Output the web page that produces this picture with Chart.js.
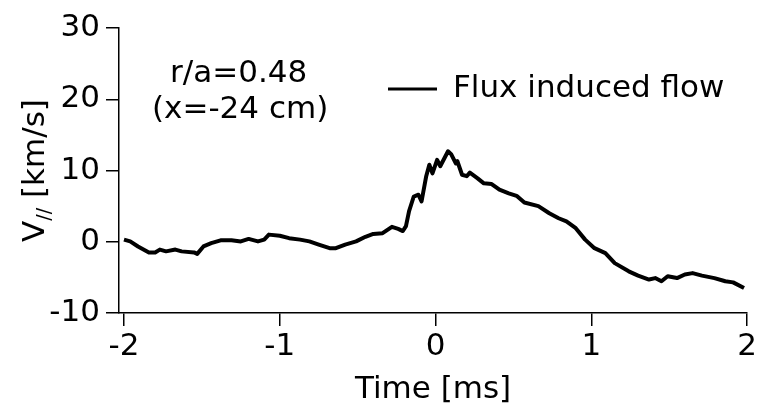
<!DOCTYPE html>
<html>
<head>
<meta charset="utf-8">
<script src="https://cdn.jsdelivr.net/npm/chart.js@4"></script>
<style>
  html, body { margin: 0; padding: 0; background: #fff; }
  #wrap { width: 759px; height: 413px; }
</style>
</head>
<body>
<div id="wrap"><canvas id="flow"></canvas></div>
<script>
// parallel flow trace, time in ms, velocity in km/s
const times = [
  -2.00, -1.96, -1.91, -1.84, -1.80, -1.77, -1.73, -1.67, -1.63, -1.55,
  -1.53, -1.49, -1.44, -1.38, -1.31, -1.25, -1.20, -1.14, -1.10, -1.07,
  -1.00, -0.94, -0.87, -0.81, -0.75, -0.68, -0.64, -0.58, -0.51, -0.45,
  -0.40, -0.34, -0.28, -0.24, -0.21, -0.19, -0.17, -0.14, -0.11, -0.09,
  -0.06, -0.04, -0.02, 0.01, 0.03, 0.08, 0.10, 0.13, 0.14, 0.17,
  0.20, 0.22, 0.27, 0.31, 0.36, 0.41, 0.47, 0.52, 0.57, 0.66,
  0.73, 0.79, 0.84, 0.90, 0.96, 1.02, 1.09, 1.15, 1.24, 1.30,
  1.37, 1.41, 1.45, 1.49, 1.55, 1.60, 1.65, 1.71, 1.79, 1.86,
  1.91, 1.98
];
const vpar = [
  0.3, 0.05, -0.66, -1.5, -1.5, -1.1, -1.35, -1.1, -1.35, -1.5,
  -1.7, -0.66, -0.2, 0.2, 0.2, 0.05, 0.4, 0.05, 0.3, 1.0,
  0.85, 0.5, 0.3, 0.05, -0.4, -0.9, -0.9, -0.4, 0.05, 0.7,
  1.1, 1.2, 2.1, 1.8, 1.5, 2.2, 4.3, 6.35, 6.6, 5.65,
  9.2, 10.8, 9.6, 11.5, 10.6, 12.7, 12.3, 11.0, 11.3, 9.4,
  9.2, 9.7, 8.9, 8.2, 8.1, 7.3, 6.8, 6.45, 5.5, 5.0,
  4.0, 3.3, 2.85, 1.9, 0.3, -0.9, -1.6, -3.0, -4.15, -4.75,
  -5.3, -5.1, -5.55, -4.85, -5.1, -4.6, -4.4, -4.75, -5.1, -5.55,
  -5.7, -6.5
];
const xTicks = [-2, -1, 0, 1, 2];
const yTicks = [-10, 0, 10, 20, 30];
const seriesLabel = 'Flux induced flow';
const noteLines = ['r/a=0.48', '(x=-24 cm)'];

const FAMILY = '"DejaVu Sans", "Liberation Sans", Arial, sans-serif';
const FONT_PX = 31;

// y title with the // subscript, inline note and the in-plot legend
const decorations = {
  id: 'decorations',
  afterDraw(chart) {
    const ctx = chart.ctx;
    const area = chart.chartArea;
    const ds = chart.data.datasets[0];
    const mainFont = FONT_PX + 'px ' + FAMILY;
    const subFont = '19px ' + FAMILY;

    ctx.save();
    ctx.fillStyle = '#000';
    ctx.textBaseline = 'alphabetic';
    ctx.textAlign = 'left';

    // rotated y axis title
    ctx.save();
    ctx.translate(44, (area.top + area.bottom) / 2);
    ctx.rotate(-Math.PI / 2);
    ctx.font = mainFont;
    const wV = ctx.measureText('V').width;
    const wRest = ctx.measureText(' [km/s]').width;
    ctx.font = subFont;
    const wSub = ctx.measureText('//').width;
    let px = -(wV + wSub + wRest) / 2;
    ctx.font = mainFont;
    ctx.fillText('V', px, 0);
    px += wV;
    ctx.font = subFont;
    ctx.fillText('//', px, 6);
    px += wSub;
    ctx.font = mainFont;
    ctx.fillText(' [km/s]', px, 0);
    ctx.restore();

    // position note
    ctx.font = mainFont;
    ctx.fillText(noteLines[0], area.left + 51, area.top + 54);
    ctx.fillText(noteLines[1], area.left + 33, area.top + 90);

    // legend entry
    const ly = area.top + 61;
    ctx.strokeStyle = ds.borderColor;
    ctx.lineWidth = 3;
    ctx.beginPath();
    ctx.moveTo(388, ly);
    ctx.lineTo(437, ly);
    ctx.stroke();
    ctx.fillText(ds.label, 453, area.top + 69);
    ctx.restore();
  }
};

new Chart(document.getElementById('flow'), {
  type: 'line',
  data: {
    datasets: [{
      label: seriesLabel,
      data: times.map((t, i) => ({ x: t, y: vpar[i] })),
      borderColor: '#000',
      borderWidth: 4,
      borderJoinStyle: 'round',
      pointRadius: 0,
      tension: 0,
      fill: false
    }]
  },
  options: {
    animation: false,
    responsive: true,
    maintainAspectRatio: false,
    parsing: false,
    layout: { padding: { top: 28, right: 10, bottom: 0, left: 0 } },
    plugins: {
      legend: { display: false },
      tooltip: { enabled: false }
    },
    scales: {
      x: {
        type: 'linear',
        min: -2.032,
        max: 2,
        afterFit: (s) => { s.height = 100; },
        afterBuildTicks: (s) => { s.ticks = xTicks.map(v => ({ value: v })); },
        border: { display: true, color: '#000', width: 1.5 },
        grid: { drawOnChartArea: false, drawTicks: true, tickLength: 13, color: '#000', lineWidth: 1.5 },
        ticks: {
          includeBounds: false,
          color: '#000',
          padding: 2,
          maxRotation: 0,
          font: { family: FAMILY, size: FONT_PX }
        },
        title: {
          display: true,
          text: 'Time [ms]',
          color: '#000',
          padding: { top: 0, bottom: 4 },
          font: { family: FAMILY, size: FONT_PX }
        }
      },
      y: {
        type: 'linear',
        min: -10,
        max: 30,
        afterFit: (s) => { s.width = 119; },
        afterBuildTicks: (s) => { s.ticks = yTicks.map(v => ({ value: v })); },
        border: { display: true, color: '#000', width: 1.5 },
        grid: { drawOnChartArea: false, drawTicks: true, tickLength: 13, color: '#000', lineWidth: 1.5 },
        ticks: {
          color: '#000',
          padding: 6,
          font: { family: FAMILY, size: FONT_PX }
        }
      }
    }
  },
  plugins: [decorations]
});
</script>
</body>
</html>
